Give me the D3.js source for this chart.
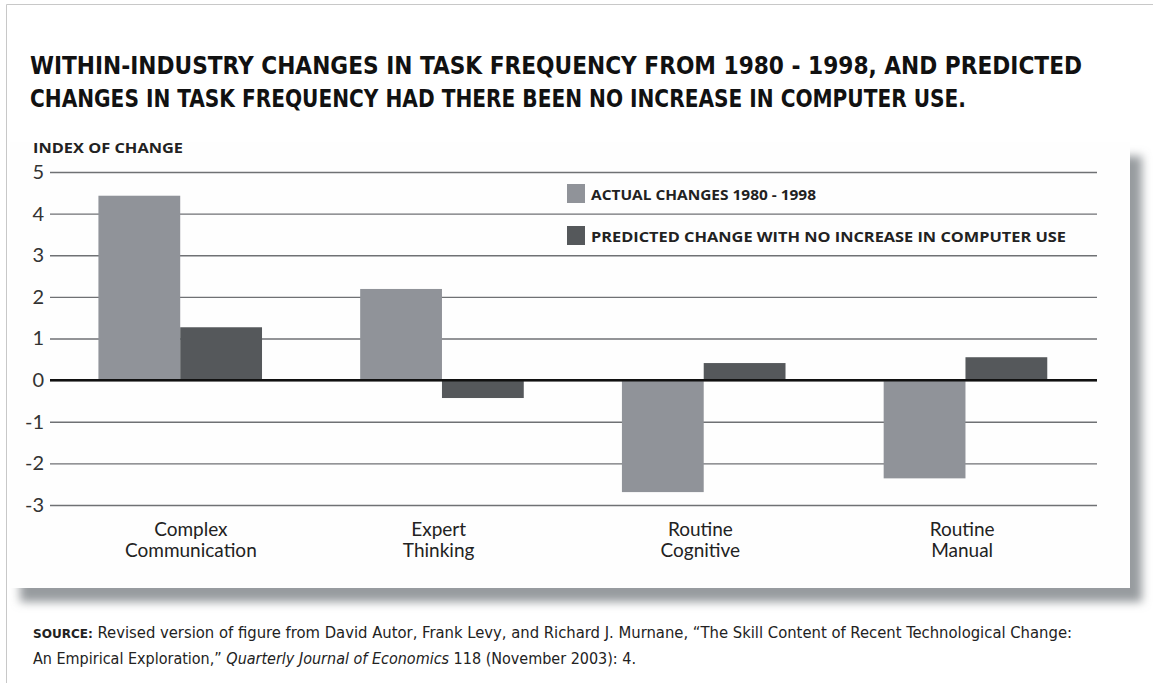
<!DOCTYPE html>
<html>
<head>
  <meta charset="utf-8"/>
  <script src="https://d3js.org/d3.v7.min.js"></script>
  <style>
    html, body { margin: 0; padding: 0; background: #fff; overflow: hidden; }
    svg { display: block; }
    .tick text { font-family: Lato, "Open Sans", sans-serif; }
  </style>
</head>
<body>
  <div id="chart"></div>
  <script>
    // data
    const categories = [["Complex", "Communication"], ["Expert", "Thinking"], ["Routine", "Cognitive"], ["Routine", "Manual"]];
    const seriesNames = ["ACTUAL CHANGES 1980 - 1998", "PREDICTED CHANGE WITH NO INCREASE IN COMPUTER USE"];
    const actual = [4.43, 2.19, -2.69, -2.36];
    const predicted = [1.27, -0.43, 0.41, 0.55];
    const yTicks = [5, 4, 3, 2, 1, 0, -1, -2, -3];
    const colors = ["#909399", "#55585b"];

    const width = 1153, height = 683;
    const svg = d3.select("#chart").append("svg")
      .attr("width", width)
      .attr("height", height);

    // outer frame line (top + left)
    svg.append("path")
      .attr("d", `M6.5,${height} V4.5 H${width}`)
      .attr("fill", "none")
      .attr("stroke", "#c8c8c8")
      .attr("stroke-width", 1);

    // panel with soft drop shadow
    const defs = svg.append("defs");
    defs.append("filter").attr("id", "blur")
      .attr("x", "-5%").attr("y", "-5%").attr("width", "110%").attr("height", "115%")
      .append("feGaussianBlur").attr("stdDeviation", 5);

    svg.append("rect")
      .attr("x", 20).attr("y", 156)
      .attr("width", 1122).attr("height", 446)
      .attr("fill", "#979b9f")
      .attr("filter", "url(#blur)");
    svg.append("rect")
      .attr("x", 10).attr("y", 142)
      .attr("width", 1120).attr("height", 446)
      .attr("fill", "#fefefe");

    // title
    const titleLines = [
      "WITHIN-INDUSTRY CHANGES IN TASK FREQUENCY FROM 1980 - 1998, AND PREDICTED",
      "CHANGES IN TASK FREQUENCY HAD THERE BEEN NO INCREASE IN COMPUTER USE."
    ];
    const titleWidths = [1052, 936];
    svg.append("g").selectAll("text")
      .data(titleLines)
      .join("text")
      .attr("x", 30)
      .attr("y", (d, i) => 74 + i * 33)
      .attr("textLength", (d, i) => titleWidths[i])
      .attr("lengthAdjust", "spacingAndGlyphs")
      .style("font-family", "'DejaVu Sans Condensed', 'Liberation Sans Narrow', sans-serif")
      .style("font-weight", "bold")
      .style("font-size", "25.5px")
      .style("fill", "#111")
      .text(d => d);

    // scales
    const margin = { left: 50, right: 1097, top: 172, bottom: 505 };
    const x = d3.scaleBand()
      .domain(d3.range(categories.length))
      .range([margin.left, margin.right])
      .paddingInner(0)
      .paddingOuter(0);
    const inner = d3.scaleBand()
      .domain([0, 1])
      .range([x.bandwidth() * 0.185, x.bandwidth() * 0.81]);
    const y = d3.scaleLinear()
      .domain([-3, 5])
      .range([margin.bottom, margin.top]);

    // y axis label
    svg.append("text")
      .attr("x", 33).attr("y", 153)
      .attr("textLength", 150)
      .attr("lengthAdjust", "spacingAndGlyphs")
      .style("font-family", "'Open Sans', sans-serif")
      .style("font-weight", "bold")
      .style("font-size", "15px")
      .style("fill", "#222")
      .text("INDEX OF CHANGE");

    // gridlines + tick labels through an axis
    const yAxis = d3.axisLeft(y)
      .tickValues(yTicks)
      .tickSize(-(margin.right - margin.left))
      .tickPadding(7)
      .tickFormat(d => String(d));
    const gy = svg.append("g")
      .attr("transform", `translate(${margin.left},0)`)
      .call(yAxis);
    gy.select(".domain").remove();
    gy.selectAll(".tick line")
      .attr("stroke", "#6f7174")
      .attr("stroke-width", 1.4);
    gy.selectAll(".tick text")
      .style("font-size", "20px")
      .style("fill", "#333")
      .attr("x", -6);

    // bars
    const rows = categories.map((c, i) => ({ i, values: [actual[i], predicted[i]] }));
    const groups = svg.append("g").selectAll("g")
      .data(rows)
      .join("g")
      .attr("transform", d => `translate(${x(d.i)},0)`);
    groups.selectAll("rect")
      .data(d => d.values.map((v, k) => ({ k, v })))
      .join("rect")
      .attr("x", d => inner(d.k))
      .attr("width", inner.bandwidth())
      .attr("y", d => y(Math.max(0, d.v)))
      .attr("height", d => Math.abs(y(d.v) - y(0)))
      .attr("fill", d => colors[d.k]);

    // zero line
    svg.append("line")
      .attr("x1", margin.left).attr("x2", margin.right)
      .attr("y1", y(0)).attr("y2", y(0))
      .attr("stroke", "#111")
      .attr("stroke-width", 2.5);

    // category labels
    const catG = svg.append("g").selectAll("text")
      .data(categories)
      .join("text")
      .attr("text-anchor", "middle")
      .style("font-family", "Lato, 'Open Sans', sans-serif")
      .style("font-size", "19px")
      .style("fill", "#222");
    catG.selectAll("tspan")
      .data((d, i) => d.map(line => ({ line, i })))
      .join("tspan")
      .attr("x", d => x(d.i) + x.bandwidth() / 2 + (d.i === 0 ? 10 : -4))
      .attr("y", (d, j) => 536 + j * 21)
      .text(d => d.line);

    // legend
    const legendWidths = [225, 475];
    const legend = svg.append("g").selectAll("g")
      .data(seriesNames)
      .join("g")
      .attr("transform", (d, i) => `translate(567,${184 + i * 42})`);
    legend.append("rect")
      .attr("width", 18).attr("height", 19)
      .attr("fill", (d, i) => colors[i]);
    legend.append("text")
      .attr("x", 24).attr("y", 16)
      .attr("textLength", (d, i) => legendWidths[i])
      .attr("lengthAdjust", "spacingAndGlyphs")
      .style("font-family", "'Open Sans', sans-serif")
      .style("font-weight", "bold")
      .style("font-size", "15px")
      .style("fill", "#222")
      .text(d => d);

    // source note
    const source = svg.append("g")
      .style("font-family", "'DejaVu Sans Condensed', 'Liberation Sans Narrow', sans-serif")
      .style("font-size", "16px")
      .style("fill", "#222");
    const s1 = source.append("text").attr("x", 33).attr("y", 638)
      .attr("textLength", 1039).attr("lengthAdjust", "spacingAndGlyphs");
    s1.append("tspan").style("font-weight", "bold").style("font-size", "13px").text("SOURCE:");
    s1.append("tspan").text(" Revised version of figure from David Autor, Frank Levy, and Richard J. Murnane, \u201cThe Skill Content of Recent Technological Change:");
    const s2 = source.append("text").attr("x", 33).attr("y", 664)
      .attr("textLength", 603).attr("lengthAdjust", "spacingAndGlyphs");
    s2.append("tspan").text("An Empirical Exploration,\u201d ");
    s2.append("tspan").style("font-style", "italic").text("Quarterly Journal of Economics");
    s2.append("tspan").text(" 118 (November 2003): 4.");
  </script>
</body>
</html>
